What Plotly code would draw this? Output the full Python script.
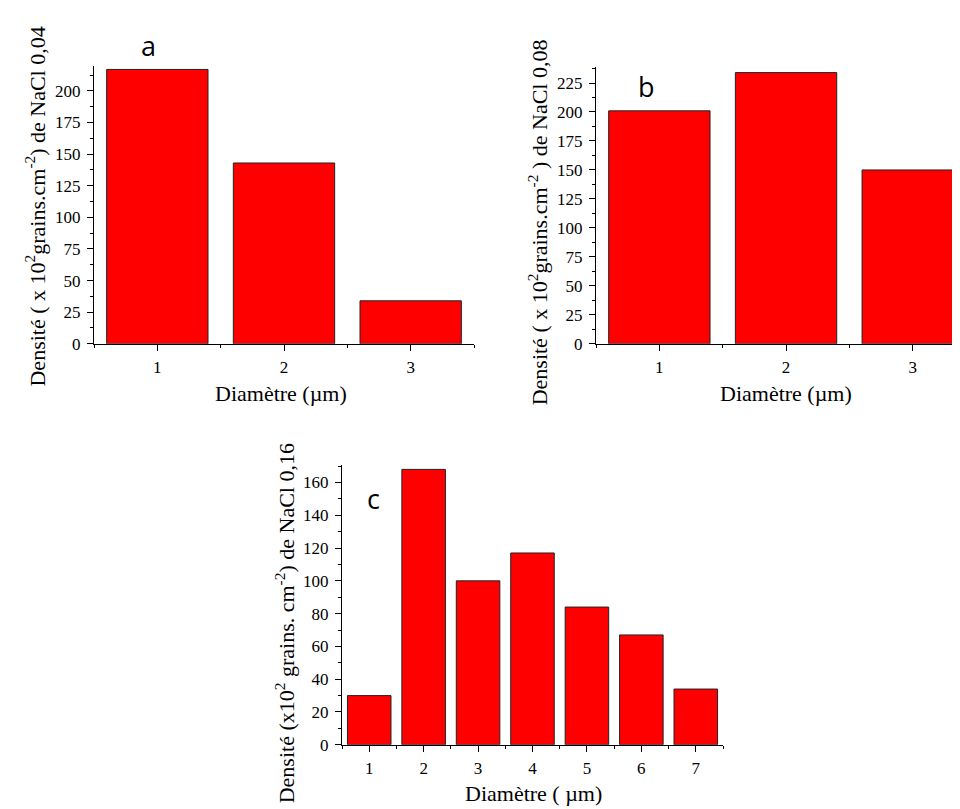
import plotly.graph_objects as go

# Data
diam_a = [1, 2, 3]
dens_a = [217, 143, 34]
diam_b = [1, 2, 3]
dens_b = [201, 234, 150]
diam_c = [1, 2, 3, 4, 5, 6, 7]
dens_c = [30, 168, 100, 117, 84, 67, 34]

W, H = 960, 809

def px_x(a, b):
    return [a / W, min(b / W, 1.0)]

def px_y(top, bottom):
    return [1 - bottom / H, 1 - top / H]

fig = go.Figure()
bar_style = dict(marker=dict(color="#FF0000", line=dict(color="#222222", width=1)), width=0.8, showlegend=False)
fig.add_trace(go.Bar(x=diam_a, y=dens_a, xaxis="x", yaxis="y", **bar_style))
fig.add_trace(go.Bar(x=diam_b, y=dens_b, xaxis="x2", yaxis="y2", **bar_style))
fig.add_trace(go.Bar(x=diam_c, y=dens_c, xaxis="x3", yaxis="y3", **bar_style))

tickfont = dict(family="Liberation Serif", size=17, color="#000")
common_x = dict(showline=True, linecolor="#000", linewidth=1, ticks="outside", ticklen=6,
                tickcolor="#000", dtick=1, showgrid=False, zeroline=False, tickfont=tickfont,
                ticklabelstandoff=2,
                minor=dict(ticks="outside", ticklen=3, dtick=0.5, tickcolor="#000"))
common_y = dict(showline=True, linecolor="#000", linewidth=1, ticks="outside", ticklen=6,
                tickcolor="#000", showgrid=False, zeroline=False, tickfont=tickfont,
                ticklabelstandoff=3)

fig.update_layout(
    width=W, height=H, margin=dict(l=0, r=0, t=0, b=0),
    paper_bgcolor="white", plot_bgcolor="white", bargap=0.2,
    xaxis=dict(domain=px_x(86, 466), range=[0.5, 3.5], anchor="y", **common_x),
    yaxis=dict(domain=px_y(59, 340), range=[0, 219.5], anchor="x", dtick=25,
               minor=dict(ticks="outside", ticklen=3, dtick=12.5, tickcolor="#000"), **common_y),
    xaxis2=dict(domain=px_x(588, 960), range=[0.5, 0.5 + (960 - 588) / 126.7], anchor="y2", **common_x),
    yaxis2=dict(domain=px_y(60, 340), range=[0, 238.6], anchor="x2", dtick=25,
                minor=dict(ticks="outside", ticklen=3, dtick=12.5, tickcolor="#000"), **common_y),
    xaxis3=dict(domain=px_x(334, 715), range=[0.5, 7.5], anchor="y3", **common_x),
    yaxis3=dict(domain=px_y(463, 746), range=[0, 170.5], anchor="x3", dtick=20,
                minor=dict(ticks="outside", ticklen=3, dtick=10, tickcolor="#000"), **common_y),
)

serif = dict(family="Liberation Serif", size=22, color="#000")
sans = dict(family="Open Sans", size=27, color="#000")

def ann(text, x, y, font, angle=0):
    fig.add_annotation(text=text, x=x / W, y=1 - y / H, xref="paper", yref="paper",
                       showarrow=False, font=font, textangle=angle, xanchor="center", yanchor="middle")

ann("Densité ( x 10<sup>2</sup>grains.cm<sup>-2</sup>) de NaCl 0,04", 27, 201, serif, -90)
ann("Densité ( x 10<sup>2</sup>grains.cm<sup>-2</sup> ) de NaCl 0,08", 530, 217, serif, -90)
ann("Densité (x10<sup>2</sup> grains. cm<sup>-2</sup>) de NaCl 0,16", 277, 623, serif, -90)
ann("Diamètre (µm)", 273, 390, serif)
ann("Diamètre (µm)", 778, 390, serif)
ann("Diamètre ( µm)", 525, 795, serif)
ann("a", 140, 38, sans)
ann("b", 638, 79, sans)
ann("c", 365, 497, sans)

fig.write_html("out.html")
